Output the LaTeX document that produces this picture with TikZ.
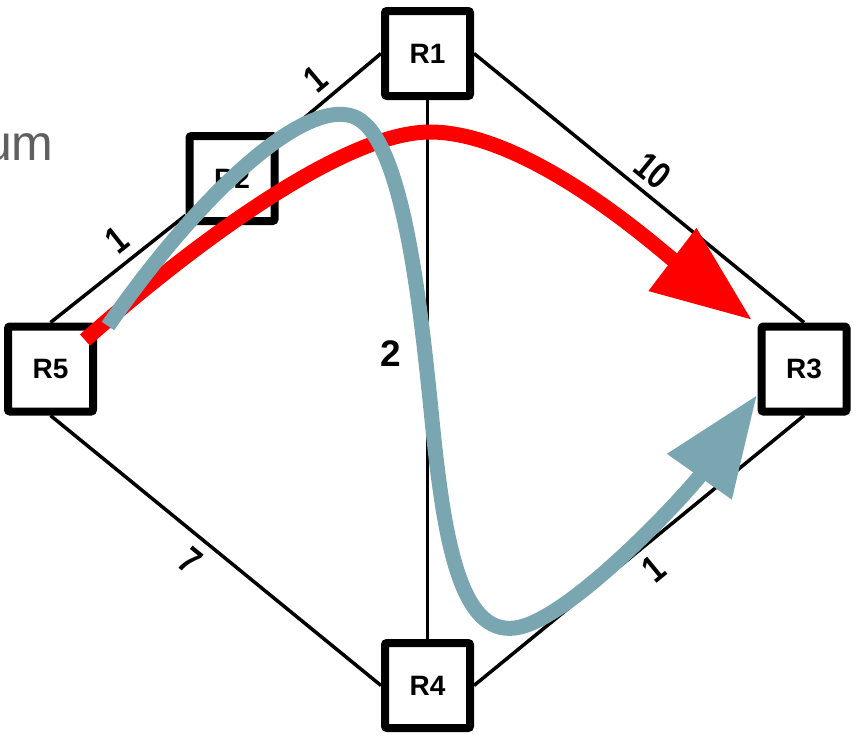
\documentclass[tikz,border=0pt]{standalone}
\usepackage{fontspec}
\setsansfont{Liberation Sans}
\newfontfamily\costfont[FakeStretch=0.8]{Liberation Sans}
\usetikzlibrary{arrows.meta, positioning}
\definecolor{pathblue}{RGB}{121,166,176}
\definecolor{textgray}{RGB}{95,95,95}

\begin{document}
\begin{tikzpicture}[x=1pt, y=-1pt,
  router/.style={draw, line width=8pt, rounded corners=2pt, fill=white, minimum size=85pt, inner sep=0pt, font=\sffamily\bfseries\fontsize{28}{28}\selectfont},
  link/.style={line width=3.5pt},
  cost/.style={sloped, inner sep=0pt, font=\costfont\bfseries\fontsize{38}{38}\selectfont},
  route/.style={line width=15pt, -{Triangle[length=100pt, width=75pt]},
    preaction={draw=black, opacity=.18, transform canvas={shift={(2pt,-3pt)}}}}]
\clip (0,0) rectangle (856,736);
\node[text=textgray, anchor=base east, font=\sffamily\fontsize{50}{50}\selectfont] (title) at (57,160) {um};

\node[router] (R1) at (427.5,53.5) {R1};
\node[router] (R2) at (232,178.5) {R2};
\node[router] (R3) at (804,369) {R3};
\node[router] (R4) at (427.5,685.5) {R4};
\node[router] (R5) at (50.5,369) {R5};

\draw[link] (R5.north) -- node[cost, pos=.6, above=9pt] (c52) {1} (R2);
\draw[link] (R2) -- node[cost, above=8pt] (c21) {1} (R1.west);
\draw[link] (R1.east) -- node[cost, above=7pt] (c13) {10} (R3.north);
\draw[link] (R5.south) -- node[cost, pos=.47, below=9pt] (c54) {7} (R4.west);
\draw[link] (R4.east) -- node[cost, below=9pt] (c43) {1} (R3.south);
\draw[link] (R1) -- node[pos=.47, left=25pt, inner sep=0pt, font=\sffamily\bfseries\fontsize{37}{37}\selectfont] (c14) {2} (R4);

% paths
\coordinate (red0) at (85,340);
\coordinate (red1) at (752,320);
\coordinate (blue0) at (108,326);
\coordinate (blue1) at (757,395);
\draw[route, red] (red0) .. controls (150,282) and (330,132) .. (430,132)
  .. controls (530,132) and (660,250) .. (red1);
\draw[route, pathblue] (blue0) .. controls (195,200) and (300,100) .. (352,116)
  .. controls (402,131) and (420,300) .. (432,420)
  .. controls (444,540) and (460,635) .. (515,628)
  .. controls (570,621) and (690,490) .. (blue1);
\end{tikzpicture}
\end{document}
